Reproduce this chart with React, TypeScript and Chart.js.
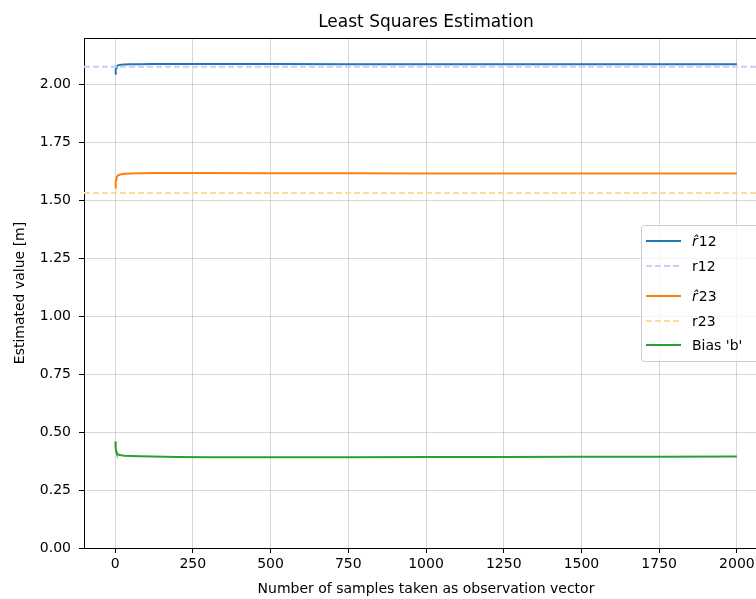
import React, { useEffect, useRef } from "react";
import { Chart, registerables } from "chart.js";

Chart.register(...registerables);

// Sample counts at which the running least-squares estimate is plotted
const sampleCounts = [1, 2, 3, 5, 8, 12, 20, 30, 50, 80, 120, 200, 300, 500, 750, 1000, 1250, 1500, 1750, 2000];

// Estimated distance r12 [m]
const r12Estimate = [2.045, 2.062, 2.072, 2.078, 2.081, 2.083, 2.085, 2.086, 2.087, 2.087, 2.088, 2.088, 2.088, 2.088, 2.087, 2.087, 2.087, 2.087, 2.087, 2.087];
// Estimated distance r23 [m]
const r23Estimate = [1.553, 1.578, 1.590, 1.600, 1.606, 1.609, 1.612, 1.614, 1.616, 1.617, 1.618, 1.618, 1.618, 1.617, 1.617, 1.616, 1.616, 1.615, 1.615, 1.615];
// Estimated clock bias 'b'
const biasEstimate = [0.459, 0.430, 0.418, 0.410, 0.405, 0.402, 0.400, 0.398, 0.397, 0.396, 0.395, 0.393, 0.392, 0.392, 0.392, 0.393, 0.393, 0.394, 0.394, 0.395];

// True reference distances
const r12True = 2.076;
const r23True = 1.531;

// Axis ranges and ticks
const xRange = [-100, 2100];
const yRange = [0, 2.2];
const xTicks = [0, 250, 500, 750, 1000, 1250, 1500, 1750, 2000];
const yTicks = [0, 0.25, 0.5, 0.75, 1.0, 1.25, 1.5, 1.75, 2.0];

const FONT = "'DejaVu Sans', sans-serif";

const series = (ys: number[]) => sampleCounts.map((x, i) => ({ x, y: ys[i] }));
const flat = (v: number) => xRange.map((x) => ({ x, y: v }));

// Closes the plot frame with top and right spines
const framePlugin = {
  id: "frame",
  afterDraw(chart: any) {
    const { ctx, chartArea: a } = chart;
    ctx.save();
    ctx.strokeStyle = "#000";
    ctx.lineWidth = 1;
    ctx.beginPath();
    ctx.moveTo(a.left, a.top + 0.5);
    ctx.lineTo(a.right, a.top + 0.5);
    ctx.moveTo(a.right - 0.5, a.top);
    ctx.lineTo(a.right - 0.5, a.bottom);
    ctx.stroke();
    ctx.restore();
  },
};

// Legend box at the centre right of the axes
const legendPlugin = {
  id: "boxLegend",
  afterDraw(chart: any) {
    const { ctx, chartArea: a } = chart;
    const datasets = chart.data.datasets;
    const rowY = [241, 266, 296, 321, 345];
    const boxRight = a.right - 7;
    const boxLeft = boxRight - 120;
    const boxTop = 225;
    const boxBottom = 361;
    ctx.save();
    ctx.beginPath();
    ctx.roundRect(boxLeft + 0.5, boxTop + 0.5, boxRight - boxLeft, boxBottom - boxTop, 3);
    ctx.fillStyle = "rgba(255,255,255,0.8)";
    ctx.fill();
    ctx.strokeStyle = "#cccccc";
    ctx.lineWidth = 1;
    ctx.stroke();

    datasets.forEach((ds: any, i: number) => {
      const y = rowY[i];
      ctx.beginPath();
      ctx.strokeStyle = ds.borderColor;
      ctx.lineWidth = 2;
      ctx.setLineDash(ds.borderDash || []);
      ctx.moveTo(boxLeft + 5, y);
      ctx.lineTo(boxLeft + 40, y);
      ctx.stroke();
      ctx.setLineDash([]);

      ctx.fillStyle = "#000";
      ctx.textBaseline = "middle";
      ctx.textAlign = "left";
      let tx = boxLeft + 51;
      const label: string = ds.label;
      if (label.startsWith("r\u0302")) {
        ctx.font = `italic 14px ${FONT}`;
        const hat = "r\u0302";
        ctx.fillText(hat, tx, y + 1);
        tx += ctx.measureText("r").width + 1;
        ctx.font = `14px ${FONT}`;
        ctx.fillText(label.slice(2), tx, y + 1);
      } else {
        ctx.font = `14px ${FONT}`;
        ctx.fillText(label, tx, y + 1);
      }
    });
    ctx.restore();
  },
};

export default function App() {
  const canvasRef = useRef<HTMLCanvasElement | null>(null);

  useEffect(() => {
    const canvas = canvasRef.current;
    if (!canvas) return;
    Chart.defaults.font.family = FONT;
    Chart.defaults.color = "#000";

    const chart = new Chart(canvas, {
      type: "line",
      data: {
        datasets: [
          { label: "r\u030212", data: series(r12Estimate), borderColor: "#1f77b4", borderWidth: 2, pointRadius: 0, order: 5 },
          { label: "r12", data: flat(r12True), borderColor: "#ccccff", borderWidth: 2, borderDash: [6, 3], pointRadius: 0, order: 4 },
          { label: "r\u030223", data: series(r23Estimate), borderColor: "#ff7f0e", borderWidth: 2, pointRadius: 0, order: 3 },
          { label: "r23", data: flat(r23True), borderColor: "#ffdb99", borderWidth: 2, borderDash: [6, 3], pointRadius: 0, order: 2 },
          { label: "Bias 'b'", data: series(biasEstimate), borderColor: "#2ca02c", borderWidth: 2, pointRadius: 0, order: 1 },
        ],
      },
      options: {
        responsive: false,
        animation: false,
        devicePixelRatio: 1,
        layout: { padding: { right: 12, left: 0, top: 0, bottom: 0 } },
        plugins: {
          legend: { display: false },
          tooltip: { enabled: false },
          title: {
            display: true,
            text: "Least Squares Estimation",
            fullSize: false,
            color: "#000",
            font: { size: 17, weight: "normal", family: FONT },
            padding: { top: 12, bottom: 5.6 },
          },
        },
        scales: {
          x: {
            type: "linear",
            min: xRange[0],
            max: xRange[1],
            afterBuildTicks: (scale: any) => {
              scale.ticks = xTicks.map((value) => ({ value }));
            },
            afterFit: (scale: any) => {
              scale.height = 51;
            },
            ticks: {
              font: { size: 14, family: FONT },
              color: "#000",
              padding: 3,
              maxRotation: 0,
              autoSkip: false,
              callback: (v: any) => String(v),
            },
            grid: {
              color: "rgba(176,176,176,0.5)",
              lineWidth: 1,
              tickColor: "#000",
              tickLength: 5,
            },
            border: { display: true, color: "#000", width: 1 },
            title: {
              display: true,
              text: "Number of samples taken as observation vector",
              color: "#000",
              font: { size: 14, family: FONT },
              padding: { top: 0, bottom: 1.2 },
            },
          },
          y: {
            type: "linear",
            min: yRange[0],
            max: yRange[1],
            afterBuildTicks: (scale: any) => {
              scale.ticks = yTicks.map((value) => ({ value }));
            },
            afterFit: (scale: any) => {
              scale.width = 84;
            },
            ticks: {
              font: { size: 14, family: FONT },
              color: "#000",
              padding: 8,
              autoSkip: false,
              callback: (v: any) => Number(v).toFixed(2),
            },
            grid: {
              color: "rgba(176,176,176,0.5)",
              lineWidth: 1,
              tickColor: "#000",
              tickLength: 5,
            },
            border: { display: true, color: "#000", width: 1 },
            title: {
              display: true,
              text: "Estimated value [m]",
              color: "#000",
              font: { size: 14, family: FONT },
              padding: { top: 11.6, bottom: 0 },
            },
          },
        },
      },
      plugins: [framePlugin, legendPlugin],
    });

    return () => chart.destroy();
  }, []);

  return (
    <div style={{ position: "fixed", left: 0, top: 0, width: 756, height: 599, overflow: "hidden", background: "#fff" }}>
      <canvas ref={canvasRef} width={780} height={599} style={{ display: "block", width: 780, height: 599 }} />
    </div>
  );
}
